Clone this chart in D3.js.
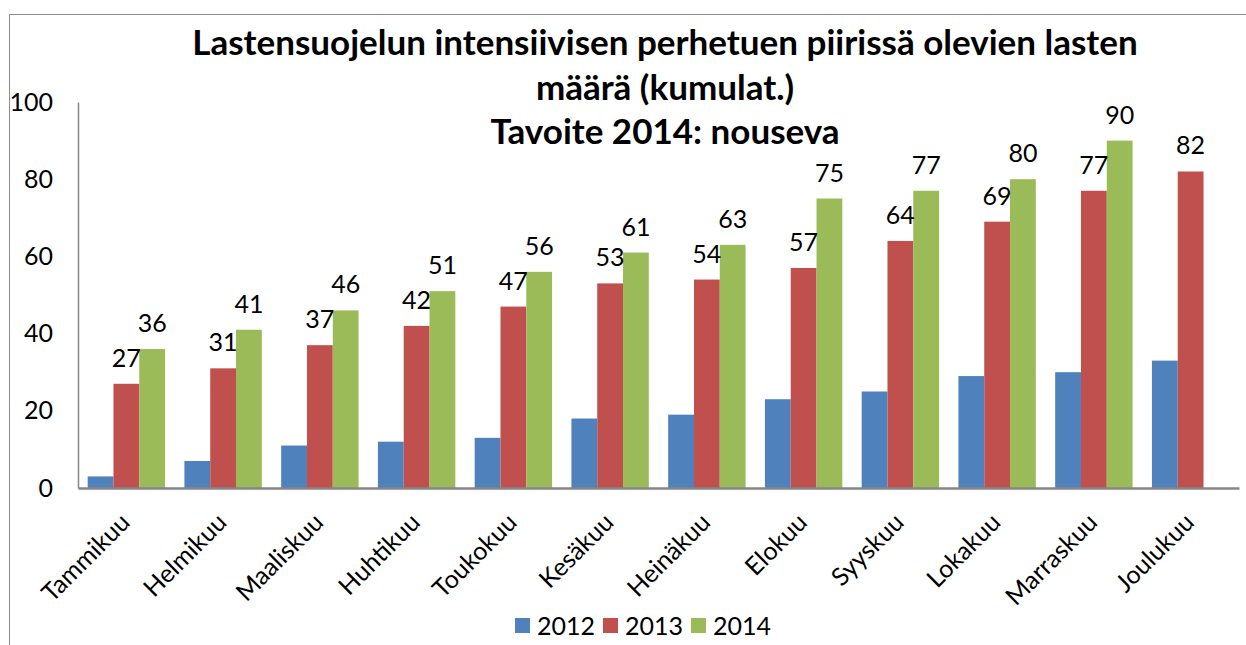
<!DOCTYPE html>
<html>
<head>
<meta charset="utf-8">
<script src="https://cdn.jsdelivr.net/npm/d3@7"></script>
<style>
  body { margin: 0; background: #fff; }
  text { font-family: Lato, "Open Sans", sans-serif; fill: #000; }
</style>
</head>
<body>
<script>
// data
const months = ['Tammikuu','Helmikuu','Maaliskuu','Huhtikuu','Toukokuu','Kesäkuu','Heinäkuu','Elokuu','Syyskuu','Lokakuu','Marraskuu','Joulukuu'];
const years = ['2012','2013','2014'];
const v2012 = [3, 7, 11, 12, 13, 18, 19, 23, 25, 29, 30, 33];
const v2013 = [27, 31, 37, 42, 47, 53, 54, 57, 64, 69, 77, 82];
const v2014 = [36, 41, 46, 51, 56, 61, 63, 75, 77, 80, 90, null];
const yTicks = [0, 20, 40, 60, 80, 100];
const titleLines = ['Lastensuojelun intensiivisen perhetuen piirissä olevien lasten', 'määrä (kumulat.)', 'Tavoite 2014: nouseva'];

const colors = {'2012': '#4f81bd', '2013': '#c0504d', '2014': '#9bbb59'};
const series = {'2012': v2012, '2013': v2013, '2014': v2014};
const labelled = ['2013', '2014'];

const W = 1246, H = 645;
const margin = {top: 102, right: 7, bottom: 157, left: 78};

const svg = d3.select('body').append('svg')
    .attr('width', W)
    .attr('height', H);

// bordo del grafico (solo sinistra e sopra visibili)
svg.append('path')
    .attr('d', 'M9.5,' + H + ' V14.5 H' + W)
    .attr('fill', 'none')
    .attr('stroke', '#8c8c8c')
    .attr('stroke-width', 1);

const x = d3.scaleBand()
    .domain(months)
    .range([margin.left, W - margin.right])
    .paddingInner(0.2)
    .paddingOuter(0.1);

const x1 = d3.scaleBand()
    .domain(years)
    .range([0, x.bandwidth()]);

const y = d3.scaleLinear()
    .domain([0, 100])
    .range([H - margin.bottom, margin.top]);

// title
svg.append('text')
    .attr('text-anchor', 'middle')
    .attr('font-size', 35)
    .attr('font-weight', 'bold')
    .selectAll('tspan')
    .data(titleLines)
    .join('tspan')
    .attr('x', 665)
    .attr('y', (d, i) => 55 + i * 44.5)
    .text(d => d);

// bars
const rows = months.map((m, i) => ({m: m, vals: years.map(yr => ({yr: yr, v: series[yr][i]}))}));

const grp = svg.append('g').selectAll('g')
    .data(rows)
    .join('g')
    .attr('transform', d => 'translate(' + x(d.m) + ',0)');

grp.selectAll('rect')
    .data(d => d.vals.filter(e => e.v != null))
    .join('rect')
    .attr('x', d => x1(d.yr))
    .attr('y', d => y(d.v))
    .attr('width', x1.bandwidth())
    .attr('height', d => y(0) - y(d.v))
    .attr('fill', d => colors[d.yr]);

grp.selectAll('text.lbl')
    .data(d => d.vals.filter(e => e.v != null && labelled.includes(e.yr)))
    .join('text')
    .attr('class', 'lbl')
    .attr('x', d => x1(d.yr) + x1.bandwidth() / 2)
    .attr('y', d => y(d.v) - 17)
    .attr('text-anchor', 'middle')
    .attr('font-size', 25)
    .text(d => d.v);

// y axis
const yAxis = svg.append('g')
    .attr('transform', 'translate(' + margin.left + ',0)')
    .call(d3.axisLeft(y).tickValues(yTicks).tickSize(0).tickPadding(25));
yAxis.select('.domain').attr('stroke', '#868686').attr('stroke-width', 1.5);
yAxis.selectAll('text').attr('font-size', 25).attr('font-family', 'Lato, sans-serif');

// x axis
const xAxis = svg.append('g')
    .attr('transform', 'translate(0,' + y(0) + ')')
    .call(d3.axisBottom(x).tickSize(0).tickPadding(0));
xAxis.select('.domain').attr('stroke', '#868686').attr('stroke-width', 2.5);
xAxis.selectAll('text')
    .attr('font-size', 25)
    .attr('font-family', 'Lato, sans-serif')
    .attr('text-anchor', 'end')
    .attr('dy', null)
    .attr('y', 0)
    .attr('transform', 'translate(5,36) rotate(-45)');

// legend
const legend = svg.append('g')
    .attr('transform', 'translate(515,618)');
const li = legend.selectAll('g')
    .data(years)
    .join('g')
    .attr('transform', (d, i) => 'translate(' + (i * 88) + ',0)');
li.append('rect')
    .attr('width', 15)
    .attr('height', 15)
    .attr('fill', d => colors[d]);
li.append('text')
    .attr('x', 22)
    .attr('y', 17)
    .attr('font-size', 25)
    .text(d => d);
</script>
</body>
</html>
